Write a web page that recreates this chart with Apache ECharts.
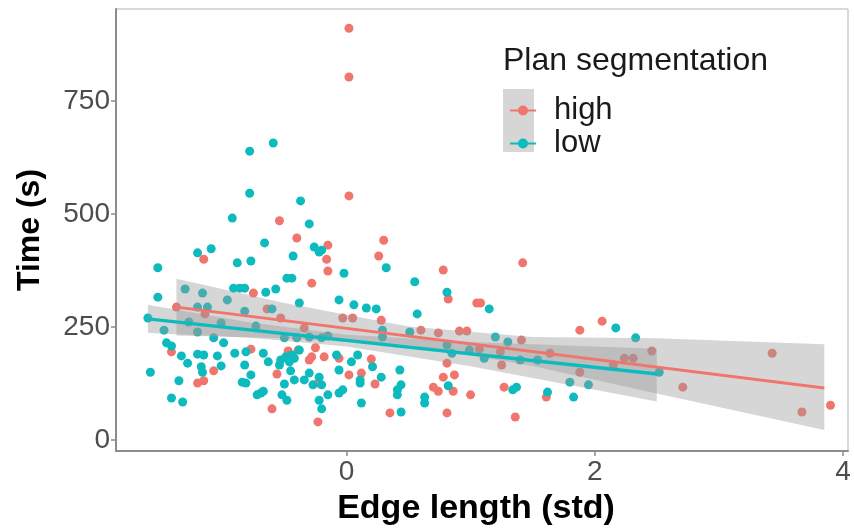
<!DOCTYPE html>
<html><head><meta charset="utf-8">
<script src="https://cdn.jsdelivr.net/npm/echarts@6/dist/echarts.min.js"></script>
<style>html,body{margin:0;padding:0;background:#fff}#c{width:854px;height:529px}</style>
</head><body><div id="c"></div>
<script>
// ---- data ----
const seriesNames = ['high', 'low'];
const highX = [0.02,0.02,0.02,-0.54,-0.40,-0.15,0.30,0.26,-0.16,-0.15,-1.15,0.78,0.82,1.05,1.08,1.42,-0.03,0.05,0.28,0.60,0.74,0.91,0.97,1.41,0.81,0.20,0.02,0.12,0.23,0.78,0.87,0.70,0.74,0.86,1.00,1.27,0.35,0.81,1.36,1.61,1.88,1.24,2.06,2.46,2.71,3.43,3.67,3.90,2.15,1.88,2.24,2.31,-0.28,-0.75,-1.37,-1.14,-0.64,-0.53,-0.34,-1.41,-0.77,-1.07,-0.56,-1.20,-1.15,-0.28,-0.39,-0.25,-0.18,-0.60,-0.23,-0.23,-0.47,-0.30,-0.06,1.07,1.25,1.64];
const highY = [911,803,540,485,447,431,442,407,400,374,400,376,312,303,303,392,270,270,265,243,237,241,241,221,170,179,144,148,124,139,144,117,108,108,100,117,60,60,51,95,243,195,263,197,117,192,62,77,166,150,181,181,347,325,294,279,290,270,248,195,201,153,146,126,131,184,199,204,184,69,40,126,197,177,181,201,166,192];
const lowX = [-0.59,-0.78,-0.78,-0.37,-0.92,-0.30,-0.66,-1.09,-1.20,-1.52,-0.88,-0.77,-0.26,-0.22,-0.20,-0.43,-0.02,0.32,-0.48,-0.44,0.55,-1.52,-1.30,-1.16,-0.91,-0.86,-0.82,-0.96,-0.65,-0.57,-0.38,-0.06,0.06,0.16,0.24,-1.60,-1.47,-1.20,-1.12,-1.27,-1.20,-1.01,-0.82,-0.73,-0.60,-1.07,-0.99,-1.45,-1.41,-1.33,-1.28,-1.20,-1.15,-1.17,-1.16,-1.04,-1.01,-0.90,-0.81,-0.82,-0.77,-0.84,-0.81,-0.67,-0.63,-0.54,-0.49,-0.44,-0.46,-0.45,-0.50,-0.52,-0.48,-0.42,-0.34,-0.30,-0.27,-0.22,-0.20,-0.22,-0.20,-0.15,-0.06,-0.03,-0.08,0.04,-0.06,-1.58,-1.35,-1.41,-1.32,-0.69,-0.72,-0.67,0.57,0.81,1.15,0.29,0.29,0.51,0.81,0.99,1.20,1.30,1.40,1.54,0.85,0.09,0.21,0.28,0.43,0.41,0.44,0.63,0.63,0.12,0.44,0.82,1.34,1.37,1.62,1.80,1.83,1.95,2.17,2.33,2.52,0.11,-0.53,-0.42,-0.38,0.11,1.11,-0.50,-0.40,-0.30,-0.20,-0.15,0.41];
const lowY = [657,639,546,529,491,478,436,423,414,381,392,396,427,416,420,407,369,381,358,358,350,316,334,325,336,336,336,310,327,334,303,310,299,292,290,270,243,294,294,261,239,259,285,252,290,226,215,215,208,186,170,190,188,162,150,186,164,192,195,166,144,128,126,192,173,166,184,188,173,153,124,100,88,133,133,148,122,139,122,88,69,100,104,111,188,173,155,150,131,93,84,104,100,108,279,327,290,243,228,239,210,199,228,217,177,177,192,188,162,139,155,111,122,95,82,82,62,120,111,117,106,128,95,122,248,226,150,126,177,181,199,133,181,226,226,228,226,230,100];
// fitted lines and confidence bands
const highLineX = [-1.37, 3.85];
const highLineY = [294, 115];
const lowLineX = [-1.60, 2.50];
const lowLineY = [268, 146];
const highBandX  = [-1.37, -0.5, 0.5, 1.5, 2.5, 3.85];
const highBandLo = [231, 225, 210, 164, 103, 22];
const highBandHi = [357, 303, 251, 228, 225, 212];
const lowBandX  = [-1.60, -0.8, 0, 1, 2.5];
const lowBandLo = [237, 227, 207, 163, 85];
const lowBandHi = [299, 261, 233, 217, 202];
const xTicks = [0, 2, 4];
const yTicks = [0, 250, 500, 750];
const legendTitle = 'Plan segmentation';
const xTitle = 'Edge length (std)';
const yTitle = 'Time (s)';

const RED = '#F0766D', TEAL = '#0DBBBE';
const pairs = (xs, ys) => xs.map((x, i) => [x, ys[i]]);

function bandSeries(name, xs, lo, hi) {
  return {
    type: 'custom', name: name + '_band', coordinateSystem: 'cartesian2d',
    data: [[xs[0], lo[0]]], z: 3, silent: true, clip: true,
    renderItem: function (params, api) {
      const pts = [];
      for (let i = 0; i < xs.length; i++) pts.push(api.coord([xs[i], hi[i]]));
      for (let i = xs.length - 1; i >= 0; i--) pts.push(api.coord([xs[i], lo[i]]));
      return { type: 'polygon', shape: { points: pts }, style: { fill: 'rgba(153,153,153,0.4)', stroke: null } };
    }
  };
}

const chart = echarts.init(document.getElementById('c'), null, { renderer: 'canvas' });
const font = '"Liberation Sans", Arial, sans-serif';
chart.setOption({
  animation: false,
  backgroundColor: '#fff',
  textStyle: { fontFamily: font },
  grid: { left: 116, right: 6, top: 9, bottom: 78, show: true, borderColor: '#b3b3b3', borderWidth: 1, containLabel: false, outerBoundsMode: 'none' },
  xAxis: {
    type: 'value', min: -1.857, max: 4.041,
    axisLine: { show: true, onZero: false, lineStyle: { color: '#8c8c8c', width: 2 } },
    axisTick: { show: true, customValues: xTicks, length: 5, lineStyle: { color: '#8c8c8c', width: 1.5 } },
    axisLabel: { customValues: xTicks, fontSize: 28, color: '#4d4d4d', margin: 7, fontFamily: font },
    splitLine: { show: false },
    name: xTitle, nameLocation: 'middle', nameGap: 41,
    nameTextStyle: { fontSize: 34, fontWeight: 'bold', color: '#000', fontFamily: font, padding: [0, 12, 0, 0] }
  },
  yAxis: {
    type: 'value', min: -24.3, max: 953.5,
    axisLine: { show: true, onZero: false, lineStyle: { color: '#8c8c8c', width: 2 } },
    axisTick: { show: true, customValues: yTicks, length: 5, lineStyle: { color: '#8c8c8c', width: 1.5 } },
    axisLabel: { customValues: yTicks, fontSize: 28, color: '#4d4d4d', margin: 6, fontFamily: font },
    splitLine: { show: false },
    name: yTitle, nameLocation: 'middle', nameGap: 70, nameRotate: 90,
    nameTextStyle: { fontSize: 32, fontWeight: 'bold', color: '#000', fontFamily: font }
  },
  legend: {
    data: seriesNames, orient: 'vertical', left: 505, top: 90,
    itemWidth: 26, itemHeight: 10, itemGap: 2,
    icon: 'path://M0,4L26,4L26,6L0,6Z M13,0A5,5 0 1 1 12.99,0Z',
    textStyle: { fontSize: 31, color: '#1a1a1a', fontFamily: font, lineHeight: 30, padding: [0, 0, 0, 13] },
    selectedMode: false
  },
  graphic: [
    { type: 'rect', left: 503, top: 89, shape: { width: 31, height: 63 }, style: { fill: '#d6d6d6' }, z: -1 },
    { type: 'text', left: 503, top: 45, style: { text: legendTitle, fontSize: 32, fill: '#1a1a1a', fontFamily: font } }
  ],
  series: [
    { type: 'scatter', name: 'high', data: pairs(highX, highY), symbolSize: 9, itemStyle: { color: RED, opacity: 1 }, z: 2 },
    { type: 'scatter', name: 'low', data: pairs(lowX, lowY), symbolSize: 9, itemStyle: { color: TEAL, opacity: 1 }, z: 2 },
    bandSeries('high', highBandX, highBandLo, highBandHi),
    bandSeries('low', lowBandX, lowBandLo, lowBandHi),
    { type: 'line', name: 'high_fit', data: pairs(highLineX, highLineY), showSymbol: false, silent: true, lineStyle: { color: RED, width: 3 }, itemStyle: { color: RED }, z: 4 },
    { type: 'line', name: 'low_fit', data: pairs(lowLineX, lowLineY), showSymbol: false, silent: true, lineStyle: { color: TEAL, width: 3.5 }, itemStyle: { color: TEAL }, z: 4 }
  ]
});
</script></body></html>
